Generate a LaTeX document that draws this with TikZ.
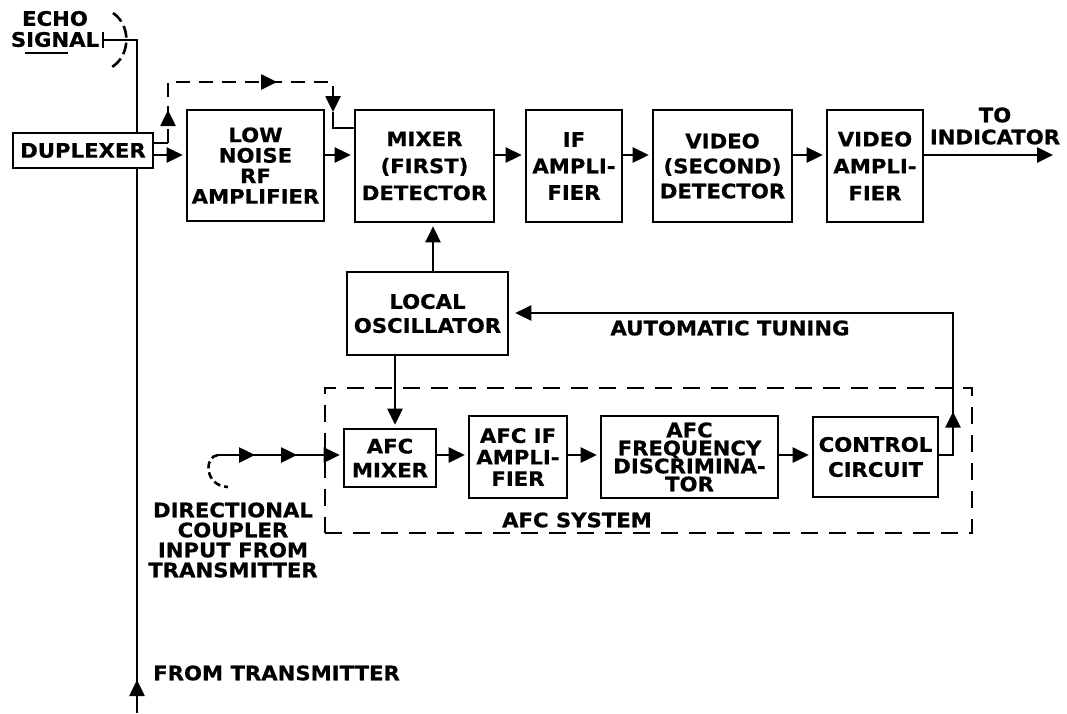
\documentclass[tikz,border=0pt]{standalone}
\usepackage{fontspec}
\newfontfamily\labfont{DejaVu Sans}[FakeStretch=1.06,FakeBold=0.6]
\usetikzlibrary{arrows.meta,decorations.markings}
\newcommand\lfs[1]{\labfont\bfseries\fontsize{20}{#1}\selectfont}
\begin{document}
\begin{tikzpicture}[x=1pt,y=-1pt,
  >={Triangle[length=16pt,width=15pt]},
  line/.style={line width=2.6pt},
  blk/.style={draw, line width=2.6pt, fill=white, inner sep=0pt, align=center},
  lbl/.style={inner sep=0pt, align=center},
  arr/.style={line, ->, shorten >=3pt},
  dsh/.style={dash pattern=on 14pt off 9pt},
  midarrow/.style={postaction={decorate}, decoration={markings, mark=at position #1 with {\arrow{>}}}},
  twoarrows/.style 2 args={postaction={decorate}, decoration={markings,
      mark=at position #1 with {\arrow{>}}, mark=at position #2 with {\arrow{>}}}},
]
\useasboundingbox (0,0) rectangle (1067,713);

% helper coordinates
\coordinate (y155) at (0,155);
\coordinate (y455) at (0,455);
\coordinate (c433) at (433,0);
\coordinate (c395) at (395,0);

% main transmission line
\coordinate (ant) at (103,40);
\coordinate (ltop) at (137,40);
\coordinate (lbot) at (137,713);
\draw[line, midarrow=33pt] (lbot) -- (ltop) -- (ant);
\draw[line] (103,32) -- (103,48);
\draw[line, dash pattern=on 12pt off 5pt] (113,13) .. controls (131,25) and (131,55) .. (112,67);
\node[lbl, font=\lfs{21}] (echo) at (55,29) {ECHO\\SIGNAL};
\draw[line width=2pt] (25,53) -- (68,53);

% AFC system dashed frame
\node[draw, line, dash pattern=on 17pt off 11pt, minimum width=647pt, minimum height=145pt, inner sep=0pt] (afcsys) at (648.5,460.5) {};
\node[lbl, font=\lfs{20}] (afcsyslbl) at (577,520) {AFC SYSTEM};

% blocks
\node[blk, minimum width=140pt, minimum height=35pt, font=\lfs{20}] (dup) at (83,150.5) {DUPLEXER};
\node[blk, minimum width=137pt, minimum height=111pt, font=\lfs{20.5}] (lna) at (255.5,165.5) {LOW\\NOISE\\RF\\AMPLIFIER};
\node[blk, minimum width=139pt, minimum height=112pt, font=\lfs{27}] (mix) at (424.5,166) {MIXER\\(FIRST)\\DETECTOR};
\node[blk, minimum width=96pt, minimum height=112pt, font=\lfs{26.5}] (ifa) at (574,166) {IF\\AMPLI-\\FIER};
\node[blk, minimum width=139pt, minimum height=112pt, font=\lfs{25}] (vdet) at (722.5,166) {VIDEO\\(SECOND)\\DETECTOR};
\node[blk, minimum width=96pt, minimum height=112pt, font=\lfs{27}] (vamp) at (875,166) {VIDEO\\AMPLI-\\FIER};
\node[blk, minimum width=161pt, minimum height=83pt, font=\lfs{24}] (lo) at (427.5,313.5) {LOCAL\\OSCILLATOR};
\node[blk, minimum width=92pt, minimum height=58pt, font=\lfs{24}] (afcm) at (390,458) {AFC\\MIXER};
\node[blk, minimum width=98pt, minimum height=82pt, font=\lfs{21.5}] (afcif) at (518,457) {AFC IF\\AMPLI-\\FIER};
\node[blk, minimum width=177pt, minimum height=82pt, font=\lfs{18}] (afcfd) at (689.5,457) {AFC\\FREQUENCY\\DISCRIMINA-\\TOR};
\node[blk, minimum width=125pt, minimum height=80pt, font=\lfs{25}] (ctrl) at (875.5,457) {CONTROL\\CIRCUIT};

% main chain
\draw[arr] (dup.east |- y155) -- (lna.west |- y155);
\draw[arr] (lna.east |- y155) -- (mix.west |- y155);
\draw[arr] (mix.east |- y155) -- (ifa.west |- y155);
\draw[arr] (ifa.east |- y155) -- (vdet.west |- y155);
\draw[arr] (vdet.east |- y155) -- (vamp.west |- y155);
\coordinate (outp) at (1053,155);
\draw[line, ->] (vamp.east |- y155) -- (outp);
\node[lbl, font=\lfs{22}] (toind) at (995,126) {TO\\INDICATOR};

% dashed bypass path
\coordinate (d1) at (168,143);
\coordinate (d2) at (168,82);
\coordinate (d3) at (333,82);
\coordinate (d4) at (333,112);
\coordinate (d5) at (333,128);
\draw[line] (dup.east |- d1) -- (d1);
\draw[line, dsh, ->, twoarrows={33pt}{170pt}] (d1) -- (d2) -- (d3) -- (d4);
\draw[line] (d4) -- (d5) -- (mix.west |- d5);

% local oscillator connections
\draw[arr] (lo.north -| c433) -- (mix.south -| c433);
\draw[arr] (lo.south -| c395) -- (afcm.north -| c395);

% AFC chain
\draw[arr] (afcm.east |- y455) -- (afcif.west |- y455);
\draw[arr] (afcif.east |- y455) -- (afcfd.west |- y455);
\draw[arr] (afcfd.east |- y455) -- (ctrl.west |- y455);

% automatic tuning feedback
\coordinate (f1) at (953,455);
\coordinate (f2) at (953,313);
\draw[line, ->, shorten >=6pt, midarrow=57pt] (ctrl.east |- y455) -- (f1) -- (f2) -- (lo.east |- f2);
\node[lbl, font=\lfs{20}] (autotune) at (730,328) {AUTOMATIC TUNING};

% directional coupler input
\coordinate (dc) at (218,455);
\draw[line, dash pattern=on 7pt off 4pt] (dc) .. controls (204,456) and (204,486) .. (228,487);
\draw[arr, twoarrows={37pt}{79pt}] (dc) -- (afcm.west |- dc);
\node[lbl, font=\lfs{20}] (dclbl) at (233,540) {DIRECTIONAL\\COUPLER\\INPUT FROM\\TRANSMITTER};

% from transmitter
\node[lbl, anchor=west, font=\lfs{20}] (fromtx) at (153,673) {FROM TRANSMITTER};
\end{tikzpicture}
\end{document}
